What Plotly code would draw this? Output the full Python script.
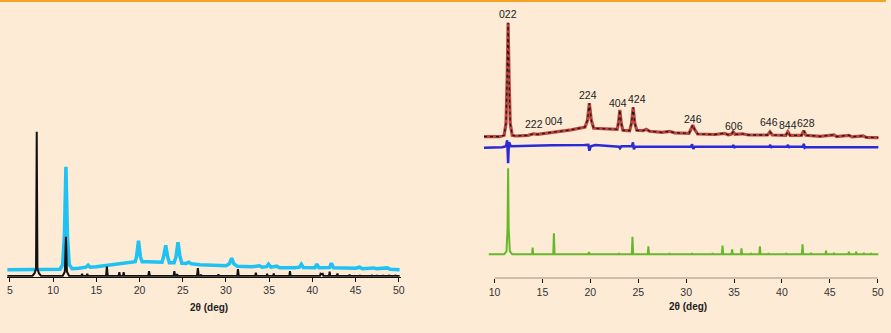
import plotly.graph_objects as go

W, H = 891, 333
BG = "#fdebd6"
FONT = "Liberation Sans"

# ---------------- Left panel (intensity, a.u.) ----------------
left_ticks = [5, 10, 15, 20, 25, 30, 35, 40, 45, 50]

black_x = [4.7, 7.6, 7.85, 8.02, 8.1, 8.18, 8.35, 8.6,
           11.1, 11.35, 11.48, 11.6, 11.85,
           13.28, 13.35, 13.42, 13.88, 13.95, 14.02,
           16.12, 16.22, 16.32,
           17.58, 17.66, 17.74, 18.08, 18.16, 18.24,
           21.0, 21.1, 21.2,
           23.94, 24.03, 24.12, 24.28, 24.35, 24.42,
           26.65, 26.75, 26.85, 27.05, 27.12, 27.2,
           29.06, 29.13, 29.2,
           31.3, 31.39, 31.48,
           33.38, 33.46, 33.54, 34.7, 34.77, 34.84, 35.46, 35.53, 35.6,
           37.33, 37.41, 37.49,
           40.88, 40.95, 41.05, 41.2, 41.28,
           41.93, 42.0, 42.07, 42.8, 42.9, 43.0,
           44.24, 44.3, 44.36,
           45.45, 45.5, 45.55, 46.85, 46.9, 46.95, 47.45, 47.5, 47.55,
           48.15, 48.2, 48.25, 48.85, 48.9, 48.95, 49.55, 49.6, 49.65, 50.1]
black_y = [0.8, 0.8, 3.5, 8, 145, 8, 3.5, 0.8,
           0.8, 5, 40, 5, 0.8,
           0.8, 2.8, 0.8, 0.8, 2.8, 0.8,
           0.8, 10, 0.8,
           0.8, 4.5, 0.8, 0.8, 4.5, 0.8,
           0.8, 5.5, 0.8,
           0.8, 5.5, 0.8, 0.8, 2.5, 0.8,
           0.8, 8.5, 0.8, 0.8, 2, 0.8,
           0.8, 2.2, 0.8,
           0.8, 7.5, 0.8,
           0.8, 4, 0.8, 0.8, 3, 0.8, 0.8, 3.2, 0.8,
           0.8, 5.5, 0.8,
           0.8, 3, 2.5, 3, 0.8,
           0.8, 5, 0.8, 0.8, 3, 0.8,
           0.8, 2, 0.8,
           0.8, 1.6, 0.8, 0.8, 1.6, 0.8, 0.8, 1.6, 0.8,
           0.8, 1.6, 0.8, 0.8, 1.6, 0.8, 0.8, 1.6, 0.8, 0.8]

cyan_x = [4.7, 10.0, 10.8, 11.1, 11.3, 11.48, 11.66, 11.86, 12.2, 13.0, 13.8, 14.05, 14.3,
          15.0, 16.0, 17.0, 18.0, 19.0, 19.5, 19.65, 19.88, 20.1, 20.3, 21.0, 22.0, 22.6,
          22.78, 23.03, 23.25, 23.45, 24.0, 24.22, 24.45, 24.68, 24.9, 25.4, 25.7, 26.0,
          27.0, 28.0, 30.0, 30.4, 30.66, 30.9, 31.3, 33.0, 33.88, 34.2, 34.7, 34.92, 35.2,
          35.88, 36.2, 38.0, 38.5, 38.72, 38.95, 40.3, 40.52, 40.75, 42.0, 42.2, 42.45,
          45.0, 45.47, 45.8, 47.1, 47.4, 48.65, 49.0, 50.1]
cyan_y = [7, 7, 7.5, 12, 40, 110, 40, 12, 8, 8.5, 9.5, 11.5, 9.5,
          10, 11, 12, 13, 14, 15, 20, 36, 20, 15, 15, 14.5, 14.5,
          20, 31.5, 20, 14, 14, 20, 34.5, 20, 13.5, 13.3, 14.5, 13,
          12, 11.5, 11, 13, 18.5, 13, 10.5, 10, 11, 9.5, 10, 12.5, 9.5,
          10.5, 9, 9, 9.5, 12.5, 9.3, 9, 12.5, 9, 9.2, 13.5, 9,
          8.5, 9.5, 8, 8.8, 8, 8.8, 7.5, 7]

# ---------------- Right panel (intensity, a.u., stacked) ----------------
right_ticks = [10, 15, 20, 25, 30, 35, 40, 45, 50]

green_x = [9.4, 11.0, 11.25, 11.36, 11.42, 11.48, 11.6, 11.85,
           13.92, 13.98, 14.04, 16.13, 16.2, 16.27, 19.8, 19.86, 19.92,
           22.95, 23.0, 23.05, 24.33, 24.4, 24.47, 25.99, 26.06, 26.13,
           28.22, 28.27, 28.32, 30.55, 30.6, 30.65, 32.72, 32.77, 32.82,
           33.73, 33.8, 33.87, 34.73, 34.8, 34.87, 35.71, 35.78, 35.85,
           36.73, 36.78, 36.83, 37.63, 37.7, 37.77, 38.55, 38.6, 38.65,
           40.4, 40.45, 40.5, 42.08, 42.15, 42.22, 43.0, 43.05, 43.1,
           44.54, 44.6, 44.66, 45.38, 45.43, 45.48, 46.94, 46.99, 47.04,
           47.7, 47.75, 47.8, 48.5, 48.55, 48.6, 49.25, 49.3, 49.35, 50.07]
green_y = [24, 24, 27, 50, 110, 50, 27, 24,
           24, 30.6, 24, 24, 45, 24, 24, 26.3, 24,
           24, 25, 24, 24, 41.6, 24, 24, 32, 24,
           24, 25, 24, 24, 25, 24, 24, 25, 24,
           24, 32.6, 24, 24, 29, 24, 24, 30, 24,
           24, 25, 24, 24, 32, 24, 24, 25, 24,
           24, 25, 24, 24, 34, 24, 24, 25.5, 24,
           24, 27.6, 24, 24, 25.5, 24, 24, 26.5, 24,
           24, 26.5, 24, 24, 25.5, 24, 24, 25, 24, 24]

calc_x = [8.9, 10.5, 11.0, 11.2, 11.32, 11.42, 11.52, 11.64, 11.85, 12.2, 13.5, 14.09, 14.5,
          16.85, 18.0, 19.45, 19.7, 19.9, 20.1, 20.35, 22.0, 22.8, 22.93, 23.08, 23.23, 23.4,
          24.1, 24.3, 24.47, 24.64, 24.85, 25.5, 25.85, 26.2, 27.5, 28.27, 28.8, 30.3, 30.5,
          30.69, 30.88, 31.2, 33.0, 33.98, 34.4, 34.7, 34.91, 35.1, 35.87, 36.5, 38.5, 38.75,
          39.0, 40.4, 40.62, 40.85, 42.05, 42.28, 42.5, 44.0, 45.44, 45.7, 47.0, 47.3, 48.5,
          48.8, 50.06]
calc_y = [141.6, 141.6, 143, 155, 200, 255.6, 200, 155, 143, 142.3, 143, 144.5, 144,
          146.6, 148.5, 151.3, 158, 175, 158, 150, 149.5, 149, 155, 168.3, 155, 148,
          147.6, 155, 171, 155, 148, 147.6, 149, 147, 146, 147, 145.5, 145, 149,
          153.3, 149, 144.3, 143.8, 145, 143.5, 144, 146.5, 144, 144.5, 143.3, 143.3, 146.5,
          143.3, 143, 146.5, 143, 143, 147.5, 143, 142, 143.5, 141.8, 143, 141.5, 142.5,
          141, 140.6]

diff_x = [8.9, 10.8, 11.2, 11.32, 11.38, 11.42, 11.47, 11.52, 11.7, 12.5, 16.0, 19.4, 19.8,
          19.9, 20.05, 20.5, 22.5, 23.0, 23.1, 23.25, 24.35, 24.45, 24.55, 24.7, 26.0, 30.5,
          30.62, 30.75, 30.9, 34.85, 34.92, 35.0, 35.1, 38.7, 38.78, 38.86, 38.95, 40.55,
          40.63, 40.71, 40.8, 42.2, 42.28, 42.38, 42.5, 50.06]
diff_y = [130.6, 131, 132, 138, 125, 115, 128, 136, 132, 132.3, 133, 133.3, 133.5,
          127.6, 132, 133.3, 132.3, 131.5, 130, 132, 132, 136, 129, 131.8, 131.6, 131.6,
          134, 129.5, 131.6, 131.6, 133.5, 130.5, 131.5, 131.5, 133.5, 130.5, 131.5, 131.5,
          133.5, 130.5, 131.5, 131.5, 134.5, 130.5, 131.3, 131]

hkl_text = ["022", "222", "004", "224", "404", "424", "246", "606", "646", "844", "628"]
hkl_x = [11.42, 14.13, 16.2, 19.73, 22.94, 24.92, 30.73, 34.99, 38.62, 40.59, 42.46]
hkl_y = [264.3, 154.3, 157.6, 183.3, 175.0, 179.3, 159.3, 152.6, 156.0, 153.3, 155.0]

axis_title = "2θ (deg)"

fig = go.Figure()

# left panel
fig.add_trace(go.Scatter(x=cyan_x, y=cyan_y, xaxis="x", yaxis="y", mode="lines",
                         line=dict(color="#1fc2f2", width=3.5), hoverinfo="skip"))
fig.add_trace(go.Scatter(x=black_x, y=black_y, xaxis="x", yaxis="y", mode="lines",
                         line=dict(color="#111111", width=2), hoverinfo="skip"))

# right panel
fig.add_trace(go.Scatter(x=green_x, y=green_y, xaxis="x2", yaxis="y2", mode="lines",
                         line=dict(color="#66b82a", width=2), hoverinfo="skip"))
fig.add_trace(go.Scatter(x=diff_x, y=diff_y, xaxis="x2", yaxis="y2", mode="lines",
                         line=dict(color="#2a2ad6", width=2.5), hoverinfo="skip"))
fig.add_trace(go.Scatter(x=calc_x, y=calc_y, xaxis="x2", yaxis="y2", mode="lines",
                         line=dict(color="#c0453e", width=3.2), hoverinfo="skip"))
fig.add_trace(go.Scatter(x=calc_x, y=calc_y, xaxis="x2", yaxis="y2", mode="lines",
                         line=dict(color="#1a1a1a", width=1.3, dash="dot"), hoverinfo="skip"))

tickfont = dict(family=FONT, size=10.5, color="#333333")

fig.update_layout(
    width=W, height=H,
    margin=dict(l=0, r=0, t=0, b=0, pad=0),
    paper_bgcolor=BG, plot_bgcolor=BG,
    showlegend=False,
    xaxis=dict(domain=[7 / W, 403 / W], range=[4.655, 50.23], anchor="y",
               tickvals=left_ticks, ticks="outside", ticklen=4, tickcolor="#111",
               showline=True, linecolor="#111", linewidth=1,
               showgrid=False, zeroline=False, tickfont=tickfont),
    yaxis=dict(domain=[1 - 276.7 / H, 1 - 118 / H], range=[0, 158.7], anchor="x",
               visible=False),
    xaxis2=dict(domain=[486 / W, 884 / W], range=[8.827, 50.135], anchor="y2",
                tickvals=right_ticks, ticks="outside", ticklen=4, tickcolor="#111",
                showline=False, showgrid=False, zeroline=False, tickfont=tickfont),
    yaxis2=dict(domain=[1 - 278.3 / H, 1 - 10 / H], range=[0, 268.3], anchor="x2",
                visible=False),
)

# top orange rule and right-panel axis line
fig.add_shape(type="rect", xref="paper", yref="paper", x0=0, x1=1, y0=1 - 2 / H, y1=1,
              line=dict(width=0), fillcolor="#f7a325", layer="above")
fig.add_shape(type="line", xref="x2", yref="y2", x0=10, x1=50, y0=0, y1=0,
              line=dict(color="#111", width=1))

for t, x, y in zip(hkl_text, hkl_x, hkl_y):
    fig.add_annotation(x=x, y=y, xref="x2", yref="y2", text=t, showarrow=False,
                       font=dict(family=FONT, size=10.5, color="#222222"),
                       xanchor="center", yanchor="middle")

fig.add_annotation(x=28.0, y=1 - 307 / H, xref="x", yref="paper", text=axis_title,
                   showarrow=False, xanchor="center", yanchor="middle",
                   font=dict(family=FONT, size=10, color="#222222", weight="bold"))
fig.add_annotation(x=30.2, y=1 - 306 / H, xref="x2", yref="paper", text=axis_title,
                   showarrow=False, xanchor="center", yanchor="middle",
                   font=dict(family=FONT, size=10, color="#222222", weight="bold"))

fig.write_html("out.html", config={"displayModeBar": False},
               post_script="document.body.style.margin='0';document.body.style.background='" + BG + "';")
